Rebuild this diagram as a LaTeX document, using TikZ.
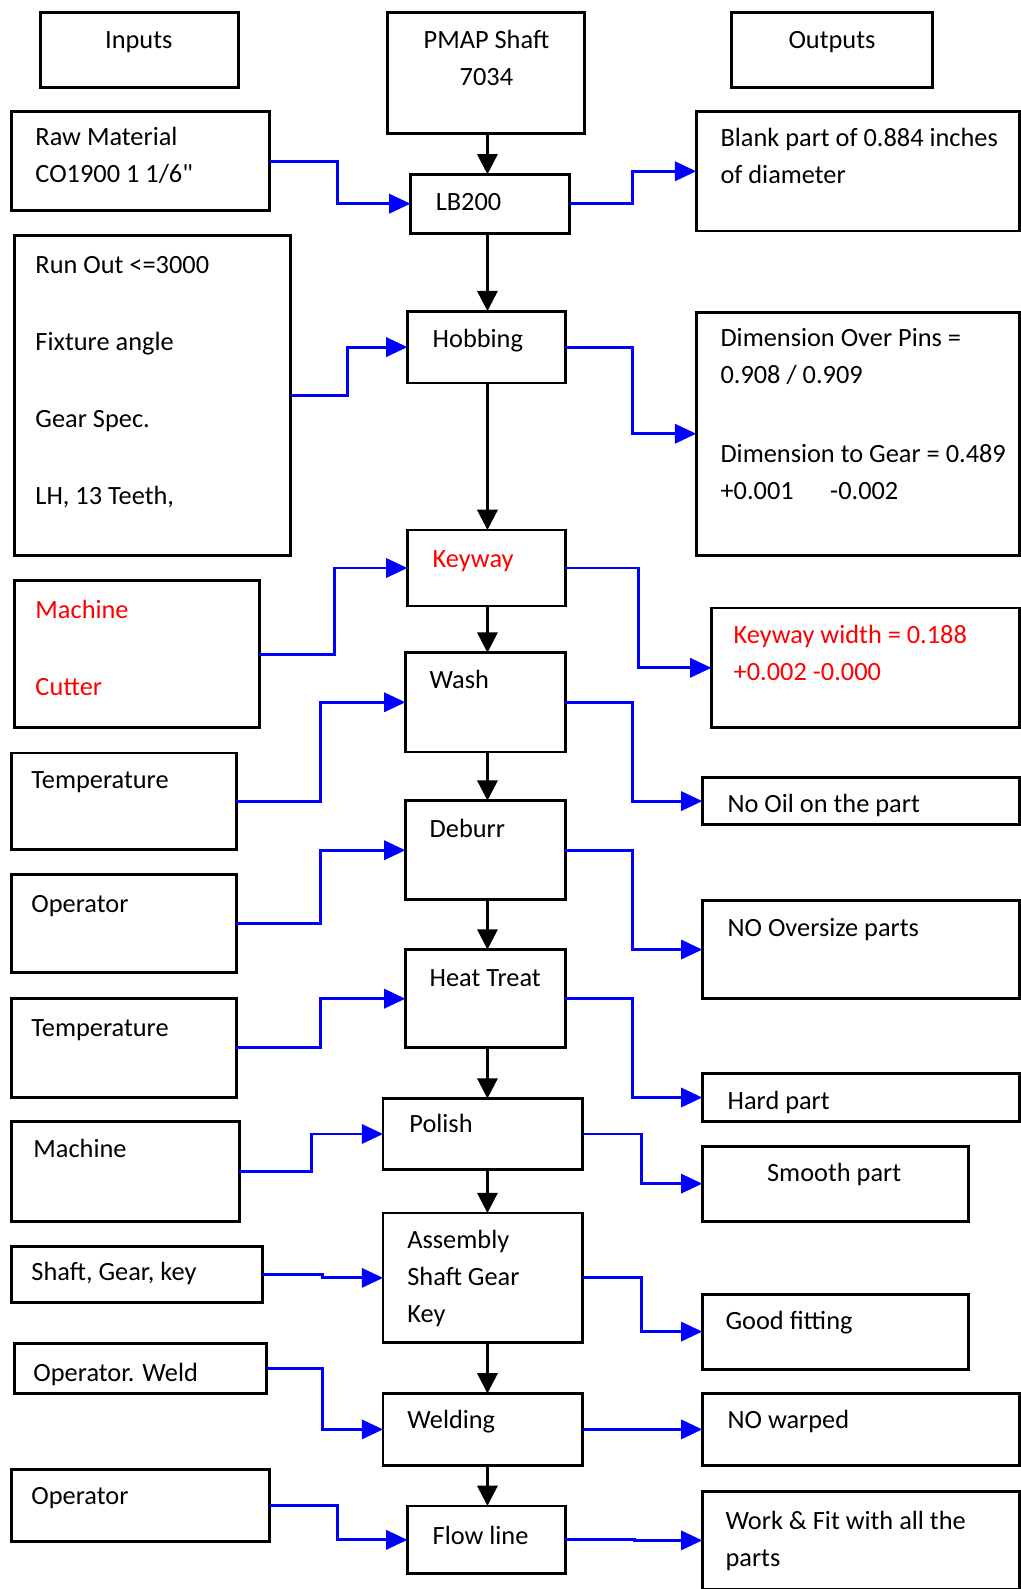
\documentclass[tikz,border=0pt]{standalone}
\usepackage{fontspec}
\setmainfont{Carlito}
\usetikzlibrary{arrows.meta}
\definecolor{linkblue}{RGB}{0,0,255}
\definecolor{warnred}{RGB}{255,0,0}

% box from corner (x1,y1) to corner (x2,y2), y measured downwards
\newcommand{\bx}[5]{%
  \node[box, minimum width={#4-#2}, minimum height={#5-#3}, anchor=north west] (#1) at (#2,#3) {};}
% text block whose first baseline sits at (x,y)
\newcommand{\tx}[5][]{%
  \node[txt,#1] (#2) at (#3,#4-20) {\rule{0pt}{20pt}#5};}

\tikzset{
  box/.style={draw=black, line width=2.8pt, inner sep=0pt, outer sep=0pt, fill=white},
  txt/.style={anchor=north west, inner sep=0pt, outer sep=0pt, align=left,
              font=\fontsize{26}{36.5}\selectfont},
  ctxt/.style={txt, anchor=north, align=center},
  flow/.style={draw=black, line width=2.6pt, -{Triangle[length=20pt,width=20pt]}},
  link/.style={draw=linkblue, line width=2.8pt, -{Triangle[length=21pt,width=19pt]}},
}

\begin{document}
\begin{tikzpicture}[x=1pt,y=-1pt]
\useasboundingbox (0,0) rectangle (1007,1568);

% ---- headers
\bx{hin}{40}{12}{235}{86}
\bx{hpart}{382}{12}{577}{132}
\bx{hout}{722}{12}{920}{86}
\tx[ctxt]{hin-t}{137}{48}{Inputs}
\tx[ctxt]{hpart-t}{480}{48}{PMAP Shaft\\7034}
\tx[ctxt]{hout-t}{821}{48}{Outputs}

% ---- process column
\bx{lb}{405}{172}{562}{230}
\bx{hob}{402}{307}{558}{378}
\bx{key}{402}{523}{558}{598}
\bx{wash}{400}{644}{558}{742}
\bx{deb}{400}{790}{558}{888}
\bx{heat}{400}{937}{558}{1034}
\bx{pol}{378}{1084}{575}{1154}
\bx{asm}{378}{1197}{575}{1325}
\bx{weld}{378}{1375}{575}{1446}
\bx{flowl}{402}{1486}{558}{1553}

\tx{lb-t}{430}{208}{LB200}
\tx{hob-t}{427}{343}{Hobbing}
\tx[text=warnred]{key-t}{427}{560}{Keyway}
\tx{wash-t}{424}{679}{Wash}
\tx{deb-t}{424}{826}{Deburr}
\tx{heat-t}{424}{973}{Heat Treat}
\tx{pol-t}{404}{1118}{Polish}
\tx{asm-t}{402}{1232}{Assembly\\Shaft Gear\\Key}
\tx{weld-t}{402}{1410}{Welding}
\tx{flowl-t}{427}{1524}{Flow line}

% ---- inputs
\bx{raw}{11}{110}{266}{208}
\bx{hobin}{14}{232}{287}{548}
\bx{keyin}{14}{573}{256}{718}
\bx{washin}{11}{743}{233}{838}
\bx{debin}{11}{863}{233}{960}
\bx{heatin}{11}{985}{233}{1083}
\bx{polin}{11}{1107}{236}{1205}
\bx{asmin}{11}{1230}{259}{1285}
\bx{weldin}{14}{1326}{263}{1375}
\bx{flowin}{11}{1450}{266}{1521}

\tx{raw-t}{35}{144}{Raw Material\\CO1900 1 1/6\textquotedbl}
\tx{hobin-t}{35}{270}{Run Out <=3000\\[39.5pt]Fixture angle\\[39.5pt]Gear Spec.\\[39.5pt]LH, 13 Teeth,}
\tx[text=warnred]{keyin-t}{35}{610}{Machine\\[39.5pt]Cutter}
\tx{washin-t}{31}{778}{Temperature}
\tx{debin-t}{31}{900}{Operator}
\tx{heatin-t}{31}{1023}{Temperature}
\tx{polin-t}{33}{1142}{Machine}
\tx{asmin-t}{31}{1264}{Shaft, Gear, key}
\tx{weldin-t}{33}{1363}{Operator. Weld}
\tx{flowin-t}{31}{1485}{Operator}

% ---- outputs
\bx{blank}{687}{110}{1006}{228}
\bx{dims}{687}{308}{1006}{548}
\bx{kw}{702}{600}{1006}{718}
\bx{oil}{693}{767}{1006}{814}
\bx{over}{693}{889}{1006}{985}
\bx{hard}{693}{1059}{1006}{1107}
\bx{smooth}{693}{1131}{956}{1205}
\bx{fit}{693}{1277}{956}{1351}
\bx{warp}{693}{1375}{1006}{1446}
\bx{work}{693}{1472}{1006}{1568}

\tx{blank-t}{711}{145}{Blank part of 0.884 inches\\of diameter}
\tx{dims-t}{711}{342}{Dimension Over Pins =\\0.908 / 0.909\\[41.5pt]Dimension to Gear = 0.489\\+0.001\hspace{36pt}-0.002}
\tx[text=warnred]{kw-t}{724}{635}{Keyway width = 0.188\\+0.002 -0.000}
\tx{oil-t}{718}{802}{No Oil on the part}
\tx{over-t}{718}{924}{NO Oversize parts}
\tx{hard-t}{718}{1095}{Hard part}
\tx{smooth-t}{757}{1166}{Smooth part}
\tx{fit-t}{716}{1312}{Good fitting}
\tx{warp-t}{718}{1410}{NO warped}
\tx{work-t}{716}{1509}{Work \& Fit with all the\\parts}

% ---- main sequence
\coordinate (cx) at (481,0);
\draw[flow] (hpart.south -| cx) -- (lb.north -| cx);
\draw[flow] (lb.south -| cx) -- (hob.north -| cx);
\draw[flow] (hob.south -| cx) -- (key.north -| cx);
\draw[flow] (key.south -| cx) -- (wash.north -| cx);
\draw[flow] (wash.south -| cx) -- (deb.north -| cx);
\draw[flow] (deb.south -| cx) -- (heat.north -| cx);
\draw[flow] (heat.south -| cx) -- (pol.north -| cx);
\draw[flow] (pol.south -| cx) -- (asm.north -| cx);
\draw[flow] (asm.south -| cx) -- (weld.north -| cx);
\draw[flow] (weld.south -| cx) -- (flowl.north -| cx);

% ---- inputs to steps
\draw[link] (raw.east) -- ++(67,0) |- (lb.west);
\draw[link] (hobin.east) -- ++(56,0) |- (hob.west);
\draw[link] (keyin.east) -- ++(74,0) |- (key.west);
\draw[link] (washin.east) -- ++(83,0) |- (wash.west);
\draw[link] (debin.east) -- ++(83,0) |- (deb.west);
\draw[link] (heatin.east) -- ++(83,0) |- (heat.west);
\draw[link] (polin.east) -- ++(71,0) |- (pol.west);
\draw[link] (asmin.east) -- ++(59,0) |- (asm.west);
\draw[link] (weldin.east) -- ++(55,0) |- (weld.west);
\draw[link] (flowin.east) -- ++(67,0) |- (flowl.west);

% ---- steps to outputs
\draw[link] (lb.east) -- ++(62,0) |- (blank.west);
\draw[link] (hob.east) -- ++(66,0) |- (dims.west);
\draw[link] (key.east) -- ++(72,0) |- (kw.west);
\draw[link] (wash.east) -- ++(66,0) |- (oil.west);
\draw[link] (deb.east) -- ++(66,0) |- (over.west);
\draw[link] (heat.east) -- ++(66,0) |- (hard.west);
\draw[link] (pol.east) -- ++(58,0) |- (smooth.west);
\draw[link] (asm.east) -- ++(58,0) |- (fit.west);
\draw[link] (weld.east) -- (warp.west);
\draw[link] (flowl.east) -- ++(68,0) |- (work.west);
\end{tikzpicture}
\end{document}
